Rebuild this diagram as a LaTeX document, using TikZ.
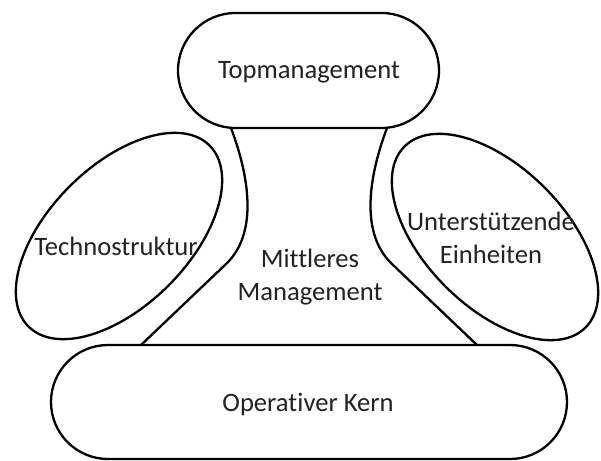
\documentclass[tikz,border=0pt]{standalone}
\usepackage{fontspec}
\setmainfont{Carlito}[Ligatures=NoCommon]
\usetikzlibrary{shapes.geometric}
\definecolor{txt}{HTML}{222222}
\begin{document}
\begin{tikzpicture}[x=1pt,y=-1pt,
  outl/.style={draw=black,line width=2.3pt},
  stadium/.style={outl,fill=white,inner sep=0pt},
  oval/.style={outl,ellipse,inner sep=0pt,minimum width=256pt,minimum height=140pt},
  lbl/.style={text=txt,font=\fontsize{26.6}{33}\selectfont,align=center,inner sep=0pt}]
\useasboundingbox (0,0) rectangle (601,460);
% middle management sides
\coordinate (tl) at (231,128);
\coordinate (tr) at (387,128);
\coordinate (bl) at (141,345);
\coordinate (br) at (477,345);
\coordinate (ml) at (226,264);
\coordinate (mr) at (392,264);
\draw[outl] (tl) .. controls (245,165) and (262,230) .. (ml) -- (bl);
\draw[outl] (tr) .. controls (373,165) and (356,230) .. (mr) -- (br);
% top management
\node[stadium,rounded corners=57.5pt,minimum width=261pt,minimum height=115pt] (top) at (308.5,70.5) {};
\node[lbl] (toptxt) at (309,72) {Topmanagement};
% operating core
\node[stadium,rounded corners=57pt,minimum width=516pt,minimum height=114pt] (core) at (309,402) {};
\node[lbl] (coretxt) at (308,404) {Operativer Kern};
% technostructure
\node[oval,rotate=45] (tech) at (119,236) {};
\node[lbl] (techtxt) at (116,246) {Technostruktur};
% support staff
\node[oval,rotate=-45] (supp) at (495,237) {};
\node[lbl] (supptxt) at (491,238) {Unterstützende\\Einheiten};
% middle line
\node[lbl,text depth=0pt] (midtxt) at (310,275) {Mittleres\\Management};
\end{tikzpicture}
\end{document}
